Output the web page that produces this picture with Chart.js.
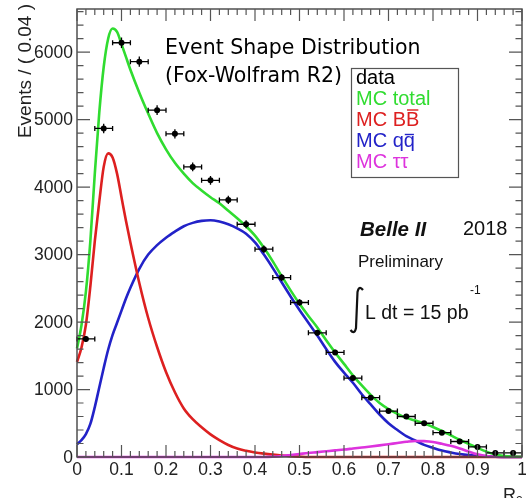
<!DOCTYPE html>
<html lang="en">
<head>
  <meta charset="UTF-8">
  <title>Event Shape Distribution</title>
  <script src="https://cdn.jsdelivr.net/npm/chart.js"></script>
  <style>
    body {
      margin: 0;
      background-color: #fff;
    }
    .chart-container {
      position: relative;
      width: 526px;
      height: 498px;
    }
  </style>
</head>
<body>
  <div class="chart-container">
    <canvas id="r2Chart"></canvas>
  </div>

  <script>
    // Fox-Wolfram R2, bins of 0.04
    const binCenters = [0.02, 0.06, 0.10, 0.14, 0.18, 0.22, 0.26, 0.30, 0.34, 0.38, 0.42, 0.46, 0.50,
                        0.54, 0.58, 0.62, 0.66, 0.70, 0.74, 0.78, 0.82, 0.86, 0.90, 0.94, 0.98];
    const dataCounts = [1750, 4870, 6140, 5860, 5140, 4790, 4300, 4100, 3810, 3450, 3080, 2660, 2290,
                        1840, 1550, 1170, 880, 680, 600, 500, 360, 230, 150, 60, 60];

    // MC shapes sampled along R2
    const curveX = [0, 0.01, 0.02, 0.03, 0.04, 0.05, 0.06, 0.07, 0.08, 0.09, 0.10, 0.11, 0.12,
                    0.14, 0.16, 0.18, 0.20, 0.22, 0.24, 0.26, 0.28, 0.30, 0.32, 0.34, 0.36, 0.38, 0.40,
                    0.42, 0.44, 0.46, 0.48, 0.50, 0.52, 0.54, 0.56, 0.58, 0.60, 0.62, 0.64, 0.66, 0.68,
                    0.70, 0.72, 0.74, 0.76, 0.78, 0.80, 0.82, 0.84, 0.86, 0.88, 0.90, 0.92, 0.94, 0.96,
                    0.98, 1.00];
    const mcTotal = [1610, 1950, 2450, 3200, 4200, 5100, 5780, 6200, 6350, 6300, 6120, 5930, 5740,
                     5400, 5090, 4800, 4560, 4360, 4200, 4060, 3950, 3850, 3760, 3650, 3540, 3420, 3280,
                     3100, 2900, 2680, 2470, 2270, 2090, 1920, 1730, 1550, 1380, 1210, 1060, 920, 800,
                     710, 640, 580, 540, 500, 445, 385, 320, 255, 195, 135, 80, 38, 15,
                     7, 4];
    const mcBB = [1410, 1620, 1960, 2530, 3200, 3780, 4300, 4500, 4440, 4200, 3850, 3500, 3180,
                  2580, 2060, 1630, 1260, 960, 720, 560, 440, 335, 250, 178, 125, 92, 68,
                  50, 35, 22, 12, 5, 0, 0, 0, 0, 0, 0, 0, 0, 0,
                  0, 0, 0, 0, 0, 0, 0, 0, 0, 0, 0, 0, 0, 0,
                  0, 0];
    const mcQQ = [190, 250, 340, 490, 740, 1030, 1320, 1590, 1810, 1990, 2170, 2350, 2510,
                  2790, 3000, 3140, 3250, 3340, 3420, 3470, 3500, 3510, 3490, 3450, 3390, 3310, 3180,
                  3000, 2800, 2590, 2380, 2180, 1990, 1800, 1600, 1410, 1250, 1100, 930, 780, 630,
                  500, 400, 310, 245, 180, 135, 95, 68, 45, 28, 17, 9, 4, 2,
                  1, 0];
    const mcTauTau = [0, 0, 0, 0, 0, 0, 0, 0, 0, 0, 0, 0, 0,
                      0, 0, 0, 0, 0, 0, 0, 0, 0, 0, 0, 0, 0, 0,
                      0, 5, 15, 30, 45, 60, 72, 85, 98, 110, 125, 140, 155, 172,
                      190, 207, 225, 238, 235, 222, 195, 165, 125, 80, 40, 14, 3, 0,
                      0, 0];

    const xTicks = [0, 0.1, 0.2, 0.3, 0.4, 0.5, 0.6, 0.7, 0.8, 0.9, 1];
    const xTickLabels = ['0', '0.1', '0.2', '0.3', '0.4', '0.5', '0.6', '0.7', '0.8', '0.9', '1'];
    const yTicks = [0, 1000, 2000, 3000, 4000, 5000, 6000];
    const yTickLabels = ['0', '1000', '2000', '3000', '4000', '5000', '6000'];

    const colors = {
      data: '#000000',
      total: '#30dc30',
      bb: '#dd2020',
      qq: '#2222c8',
      tau: '#dd33dd'
    };

    function points(xs, ys) {
      return xs.map((x, i) => ({ x: x, y: ys[i] }));
    }

    function curve(label, values, color, order) {
      return {
        label: label,
        data: points(curveX, values),
        showLine: true,
        borderColor: color,
        borderWidth: 2.6,
        pointRadius: 0,
        cubicInterpolationMode: 'monotone',
        clip: false,
        order: order
      };
    }

    // ROOT style frame: inward ticks on all four sides, labels, error bars, legend and notes
    const rootFrame = {
      id: 'rootFrame',
      afterDatasetsDraw(chart) {
        const { ctx, scales: { x, y } } = chart;
        ctx.save();
        ctx.strokeStyle = '#000';
        ctx.lineWidth = 1.3;
        binCenters.forEach((c, i) => {
          const v = dataCounts[i];
          const err = Math.sqrt(v);
          const px = x.getPixelForValue(c);
          const py = y.getPixelForValue(v);
          const x1 = x.getPixelForValue(c - 0.02);
          const x2 = x.getPixelForValue(c + 0.02);
          ctx.beginPath();
          ctx.moveTo(x1, py); ctx.lineTo(x2, py);
          ctx.moveTo(x1, py - 2.5); ctx.lineTo(x1, py + 2.5);
          ctx.moveTo(x2, py - 2.5); ctx.lineTo(x2, py + 2.5);
          ctx.moveTo(px, y.getPixelForValue(v + err)); ctx.lineTo(px, y.getPixelForValue(v - err));
          ctx.stroke();
        });
        ctx.restore();
      },
      afterDraw(chart) {
        const { ctx, chartArea: a, scales: { x, y } } = chart;
        ctx.save();

        // frame
        ctx.strokeStyle = '#444';
        ctx.lineWidth = 1.4;
        ctx.strokeRect(a.left, a.top, a.right - a.left, a.bottom - a.top);

        // x ticks every 0.02, major every 0.1
        ctx.lineWidth = 1.2;
        ctx.strokeStyle = '#555';
        ctx.beginPath();
        for (let i = 0; i <= 50; i++) {
          const px = x.getPixelForValue(i / 50);
          const len = i % 5 === 0 ? 12 : 6;
          ctx.moveTo(px, a.bottom); ctx.lineTo(px, a.bottom - len);
          ctx.moveTo(px, a.top); ctx.lineTo(px, a.top + len);
        }
        // y ticks every 200, major every 1000
        for (let v = 0; v <= y.max; v += 200) {
          const py = y.getPixelForValue(v);
          const len = v % 1000 === 0 ? 13 : 6.5;
          ctx.moveTo(a.left, py); ctx.lineTo(a.left + len, py);
          ctx.moveTo(a.right, py); ctx.lineTo(a.right - len, py);
        }
        ctx.stroke();

        // tick labels
        ctx.fillStyle = '#222';
        ctx.font = '17.5px "Liberation Sans", Arial, sans-serif';
        ctx.textAlign = 'center';
        ctx.textBaseline = 'alphabetic';
        xTicks.forEach((v, i) => {
          ctx.fillText(xTickLabels[i], x.getPixelForValue(v), 475);
        });
        ctx.textAlign = 'right';
        ctx.textBaseline = 'middle';
        yTicks.forEach((v, i) => {
          ctx.fillText(yTickLabels[i], a.left - 4, y.getPixelForValue(v) + 1);
        });

        // axis titles
        ctx.font = '19px "Liberation Sans", Arial, sans-serif';
        ctx.textBaseline = 'alphabetic';
        ctx.save();
        ctx.translate(31, 4);
        ctx.rotate(-Math.PI / 2);
        ctx.textAlign = 'right';
        ctx.fillText('Events / ( 0.04 )', 0, 0);
        ctx.restore();
        ctx.textAlign = 'left';
        ctx.font = '18px "Liberation Sans", Arial, sans-serif';
        ctx.fillText('R', 503, 501);
        ctx.font = '12px "Liberation Sans", Arial, sans-serif';
        ctx.fillText('2', 516, 505);

        // title
        ctx.fillStyle = '#000';
        ctx.font = '20.5px "DejaVu Sans", sans-serif';
        ctx.fillText('Event Shape Distribution', 165, 54);
        ctx.fillText('(Fox-Wolfram R2)', 165, 82);

        // legend
        ctx.fillStyle = '#fff';
        ctx.fillRect(351, 68, 107, 109);
        ctx.strokeStyle = '#555';
        ctx.lineWidth = 1.2;
        ctx.strokeRect(351.5, 68.5, 107, 109);
        ctx.font = '20px "Liberation Sans", Arial, sans-serif';
        const lx = 356;
        const rows = [
          { text: 'data', color: colors.data },
          { text: 'MC total', color: colors.total },
          { text: 'MC BB', color: colors.bb, bar: 'B' },
          { text: 'MC qq', color: colors.qq, bar: 'q' },
          { text: 'MC \u03c4\u03c4', color: colors.tau }
        ];
        rows.forEach((r, i) => {
          const by = 84 + i * 21;
          ctx.fillStyle = r.color;
          ctx.fillText(r.text, lx, by);
          if (r.bar) {
            const full = ctx.measureText(r.text).width;
            const last = ctx.measureText(r.bar).width;
            const top = r.bar === 'B' ? by - 16 : by - 12.5;
            ctx.strokeStyle = r.color;
            ctx.lineWidth = 1.4;
            ctx.beginPath();
            ctx.moveTo(lx + full - last + 1, top);
            ctx.lineTo(lx + full - 1, top);
            ctx.stroke();
          }
        });

        // experiment notes
        ctx.fillStyle = '#111';
        ctx.font = 'italic bold 20.5px "Liberation Sans", Arial, sans-serif';
        ctx.fillText('Belle II', 360, 236);
        ctx.font = '20px "Liberation Sans", Arial, sans-serif';
        ctx.fillText('2018', 463, 235);
        ctx.font = '17px "Liberation Sans", Arial, sans-serif';
        ctx.fillText('Preliminary', 358, 267);
        ctx.font = '19.5px "Liberation Sans", Arial, sans-serif';
        ctx.fillText('L dt = 15 pb', 365, 319);
        ctx.font = '12px "Liberation Sans", Arial, sans-serif';
        ctx.fillText('-1', 470, 294);
        // integral sign
        ctx.strokeStyle = '#111';
        ctx.lineWidth = 2.2;
        ctx.beginPath();
        ctx.moveTo(363, 290);
        ctx.quadraticCurveTo(359, 285, 357.5, 292);
        ctx.lineTo(356, 328);
        ctx.quadraticCurveTo(354.5, 335, 350.5, 330);
        ctx.stroke();

        ctx.restore();
      }
    };

    const ctx = document.getElementById('r2Chart').getContext('2d');
    new Chart(ctx, {
      type: 'scatter',
      data: {
        datasets: [
          {
            label: 'data',
            data: points(binCenters, dataCounts),
            pointRadius: 3,
            pointBackgroundColor: colors.data,
            pointBorderColor: colors.data,
            borderWidth: 0,
            showLine: false,
            order: 0
          },
          curve('MC total', mcTotal, colors.total, 1),
          curve('MC ττ', mcTauTau, colors.tau, 2),
          curve('MC BB', mcBB, colors.bb, 3),
          curve('MC qq', mcQQ, colors.qq, 4)
        ]
      },
      options: {
        responsive: true,
        maintainAspectRatio: false,
        animation: false,
        layout: { padding: { left: 77, right: 1, top: 9, bottom: 41 } },
        plugins: {
          legend: { display: false },
          tooltip: { enabled: false }
        },
        scales: {
          x: { type: 'linear', min: 0, max: 1, display: false },
          y: { type: 'linear', min: 0, max: 6640, display: false }
        }
      },
      plugins: [rootFrame]
    });
  </script>
</body>
</html>
